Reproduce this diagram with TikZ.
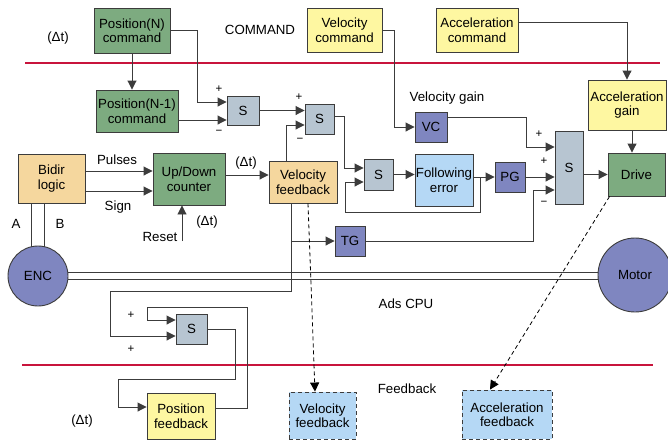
\documentclass[tikz,border=0pt]{standalone}
\usepackage{fontspec}
\setmainfont{Liberation Sans}
\usetikzlibrary{arrows.meta,calc}
\definecolor{gbox}{HTML}{7DAB80}
\definecolor{ybox}{HTML}{FEF7A1}
\definecolor{tbox}{HTML}{F5D79E}
\definecolor{bbox}{HTML}{B5D8F5}
\definecolor{pbox}{HTML}{7F86C0}
\definecolor{sbox}{HTML}{B7C5D1}
\definecolor{wire}{HTML}{3C3C3C}
\definecolor{redline}{HTML}{C8143C}
\tikzset{
  every node/.style={font=\fontsize{13.3}{14.5}\selectfont},
  blk/.style={draw=wire, line width=0.9pt, align=center, inner sep=0pt},
  conn/.style={draw=wire, line width=0.9pt, -{Triangle[length=9pt,width=9pt]}},
  plain/.style={draw=wire, line width=0.9pt},
  dconn/.style={draw=black, line width=0.8pt, dash pattern=on 4pt off 3pt, -{Triangle[length=9pt,width=9pt]}},
  sgn/.style={font=\fontsize{11.5}{12}\selectfont, inner sep=0pt},
  lbl/.style={inner sep=0pt},
  sepline/.style={draw=redline, line width=1.1pt}
}
\begin{document}
\begin{tikzpicture}[x=1pt,y=-1pt]
\useasboundingbox (0,0) rectangle (668,440);
% separator lines
\draw[sepline] (25,63) -- (660,63);
\draw[sepline] (22,365) -- (653,365);

% coordinates for free ends / junctions
\coordinate (fej) at (480,177);
\coordinate (rst) at (182,241);

% nodes
\node[blk, fill=gbox, minimum width=76, minimum height=45] (posN) at (132,30.5) {Position(N)\\command};
\node[blk, fill=gbox, minimum width=82, minimum height=42] (posN1) at (137,111) {Position(N-1)\\command};
\node[blk, fill=ybox, minimum width=75, minimum height=44] (velcmd) at (344.5,30) {Velocity\\command};
\node[blk, fill=ybox, minimum width=82, minimum height=44] (acccmd) at (477,30) {Acceleration\\command};
\node[blk, fill=sbox, minimum width=32, minimum height=29] (S1) at (243,110.5) {S};
\node[blk, fill=sbox, minimum width=29, minimum height=30] (S2) at (319.5,119) {S};
\node[blk, fill=sbox, minimum width=29, minimum height=31] (S3) at (378.5,174.5) {S};
\node[blk, fill=bbox, minimum width=58, minimum height=52] (FE) at (444,180) {Following\\error};
\node[blk, fill=pbox, minimum width=30, minimum height=30] (PG) at (510,177) {PG};
\node[blk, fill=pbox, minimum width=32, minimum height=30] (VC) at (431,127) {VC};
\node[blk, fill=sbox, minimum width=28, minimum height=73] (bigS) at (569,167.5) {S};
\node[blk, fill=gbox, minimum width=57, minimum height=43] (drive) at (636.5,174.5) {Drive};
\node[blk, fill=ybox, minimum width=78, minimum height=50] (accgain) at (627,105) {Acceleration\\gain};
\node[blk, fill=tbox, minimum width=67, minimum height=49] (bidir) at (51.5,178.5) {Bidir\\logic};
\node[blk, fill=gbox, minimum width=72, minimum height=52] (counter) at (189,179) {Up/Down\\counter};
\node[blk, fill=tbox, minimum width=68, minimum height=42] (vfb) at (303,182) {Velocity\\feedback};
\node[blk, fill=pbox, minimum width=30, minimum height=30] (TG) at (350,241) {TG};
\node[blk, fill=sbox, minimum width=31, minimum height=30] (S4) at (191.5,329) {S};
\node[blk, fill=ybox, minimum width=68, minimum height=46] (posfb) at (181,416) {Position\\feedback};
\node[blk, fill=bbox, dash pattern=on 4pt off 3pt, minimum width=67, minimum height=47] (vfb2) at (322.5,415.5) {Velocity\\feedback};
\node[blk, fill=bbox, dash pattern=on 4pt off 3pt, minimum width=90, minimum height=49] (accfb) at (507,414.5) {Acceleration\\feedback};
\node[blk, circle, fill=pbox, minimum size=60] (ENC) at (38,276) {ENC};
\node[blk, circle, fill=pbox, minimum size=74] (Motor) at (635,275) {Motor};

% ---- connectors ----
\draw[conn] (posN.south) -- (posN.south |- posN1.north);
\draw[conn] (posN.east) -| (197,102) -- (S1.west |- 0,102);
\draw[conn] (posN1.east |- 0,120) -- (S1.west |- 0,120);
\draw[conn] (S1.east) -- (S2.west |- S1.east);
\draw[conn] (vfb.north -| 286,0) |- (S2.west |- 0,125);
\draw[conn] (S2.east |- 0,116) -| (344,168) -- (S3.west |- 0,168);
\draw[conn] (S3.east) -- (FE.west |- S3.east);
\draw[conn] (FE.east |- PG.west) -- (PG.west);
\draw[conn] (fej) -- (480,212) -| (345,182) -- (S3.west |- 0,182);
\draw[conn] (PG.east) -- (bigS.west |- PG.east);
\draw[conn] (velcmd.east) -| (394,127) -- (VC.west);
\draw[conn] (VC.east |- 0,117) -| (526,147) -- (bigS.west |- 0,147);
\draw[conn] (TG.east) -| (533,190) -- (bigS.west |- 0,190);
\draw[conn] (bigS.east |- drive.west) -- (drive.west);
\draw[conn] (acccmd.east |- 0,22) -| (accgain.north);
\draw[conn] (accgain.south -| 632,0) -- (drive.north -| 632,0);
\draw[conn] (bidir.east |- 0,171) -- (counter.west |- 0,171);
\draw[conn] (bidir.east |- 0,191) -- (counter.west |- 0,191);
\draw[conn] (rst) -- (counter.south -| rst);
\draw[conn] (counter.east |- 0,175) -- (vfb.west |- 0,175);
\draw[plain] (bidir.south -| 31,0) -- (31,247);
\draw[plain] (bidir.south -| 44,0) -- (44,247);
\draw[plain] (ENC.east |- 0,272) -- (Motor.west |- 0,272);
\draw[plain] (ENC.east |- 0,279) -- (Motor.west |- 0,279);
\draw[conn] (vfb.south -| 291,0) -- (291,291) -| (110,336) -- (S4.west |- 0,336);
\draw[conn] (TG.west -| 291,0) -- (TG.west);
\draw[dconn] (vfb.south -| 308,0) -- (vfb2.north -| 315,0);
\draw[conn] (posfb.east |- 0,408) -| (247,307) -| (147,320) -- (S4.west |- 0,320);
\draw[conn] (S4.east) -| (235,379) -| (118,407) -- (posfb.west |- 0,407);
\draw[dconn] ($(drive.south west)+(2,0)$) -- (accfb.north -| 490,0);

% signs
\node[sgn] (p1) at (219,89) {+};
\node[sgn] (m1) at (219,132) {\textminus};
\node[sgn] (p2) at (299,97) {+};
\node[sgn] (m2) at (300,140) {\textminus};
\node[sgn] (p3) at (539,134) {+};
\node[sgn] (p4) at (544,161) {+};
\node[sgn] (m3) at (544,203) {\textminus};
\node[sgn] (p5) at (131,315) {+};
\node[sgn] (p6) at (131,349) {+};

% labels
\node[lbl] (dt1) at (58,38) {(Δt)};
\node[lbl] (cmd) at (260,30) {COMMAND};
\node[lbl] (vg) at (447,98) {Velocity gain};
\node[lbl] (pul) at (117,160) {Pulses};
\node[lbl] (sig) at (118,207) {Sign};
\node[lbl] (la) at (16,224) {A};
\node[lbl] (lb) at (60,224) {B};
\node[lbl] (rsl) at (160,237) {Reset};
\node[lbl] (dt2) at (207,222) {(Δt)};
\node[lbl] (dt3) at (246,163) {(Δt)};
\node[lbl] (ads) at (406,304) {Ads CPU};
\node[lbl] (fbl) at (407,389) {Feedback};
\node[lbl] (dt4) at (82,421) {(Δt)};
\end{tikzpicture}
\end{document}
